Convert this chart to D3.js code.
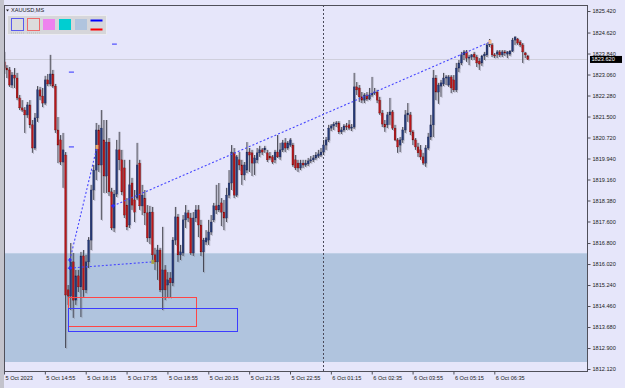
<!DOCTYPE html>
<html><head><meta charset="utf-8">
<script src="https://cdn.jsdelivr.net/npm/d3@7"></script>
<style>html,body{margin:0;padding:0;background:#e6e6fa;overflow:hidden}svg{display:block}</style>
</head><body><svg id="c" width="625" height="388"></svg>
<script>
const symbol = "XAUUSD,MS";
const opens = [
1823.53,1823.30,1823.23,1822.67,1823.04,1822.93,1822.19,1821.82,1821.74,1821.56,
1821.93,1821.19,1820.33,1821.45,1822.49,1822.26,1822.00,1822.86,1822.71,1823.08,
1822.63,1821.00,1820.63,1819.81,1820.07,1815.06,1814.83,1816.10,1814.68,1815.58,
1815.17,1816.32,1815.06,1816.10,1816.91,1818.77,1819.51,1821.00,1819.70,1820.63,
1819.29,1820.55,1818.70,1817.36,1818.62,1820.26,1819.89,1819.59,1818.21,1817.47,
1819.03,1818.40,1818.47,1819.77,1818.18,1818.47,1817.92,1816.99,1817.95,1816.36,
1816.10,1816.54,1815.06,1815.80,1815.24,1815.50,1815.32,1816.91,1817.77,1816.36,
1816.43,1817.66,1817.92,1817.73,1816.43,1817.73,1818.03,1817.47,1816.47,1816.84,
1816.91,1817.21,1817.66,1818.18,1818.03,1818.29,1817.95,1817.73,1818.58,1819.03,
1820.15,1818.58,1819.89,1819.70,1819.33,1819.51,1820.18,1820.15,1819.77,1819.89,
1820.15,1820.26,1820.26,1820.15,1820.03,1820.00,1819.89,1820.18,1820.00,1820.26,
1820.52,1820.33,1820.44,1820.44,1819.89,1819.77,1819.59,1819.77,1819.70,1819.74,
1819.85,1819.89,1819.96,1820.03,1820.07,1820.18,1820.44,1820.63,1821.07,1821.15,
1821.22,1821.26,1820.93,1821.00,1821.15,1821.19,1821.07,1821.11,1822.60,1822.56,
1822.23,1822.11,1822.30,1822.15,1822.30,1822.37,1822.41,1822.11,1821.63,1821.22,
1821.19,1821.56,1821.67,1821.07,1820.63,1820.44,1820.63,1821.00,1821.56,1821.56,
1820.93,1820.63,1820.37,1820.26,1820.00,1819.77,1820.33,1820.74,1821.19,1822.93,
1822.41,1822.63,1822.71,1822.93,1822.67,1822.97,1822.86,1822.49,1823.30,1823.49,
1823.79,1823.90,1823.67,1823.71,1823.82,1823.71,1823.56,1823.49,1823.75,1823.79,
1824.16,1824.16,1823.79,1823.82,1823.90,1823.79,1823.90,1823.82,1823.82,1823.93,
1824.34,1824.38,1824.27,1824.16,1823.86,1823.75];
const highs = [
1823.90,1823.41,1823.34,1823.15,1823.30,1823.12,1822.30,1822.11,1821.85,1822.04,
1822.11,1821.37,1821.63,1822.63,1822.60,1822.56,1823.01,1823.08,1823.79,1823.23,
1822.71,1821.48,1820.81,1820.89,1820.18,1815.24,1816.80,1816.43,1815.80,1815.80,
1816.47,1816.54,1816.36,1817.02,1818.96,1819.70,1821.26,1821.19,1821.74,1821.37,
1821.37,1820.70,1818.85,1818.77,1820.63,1820.93,1820.26,1819.89,1818.47,1819.89,
1819.22,1818.77,1820.52,1819.89,1818.96,1818.77,1818.21,1818.18,1818.14,1816.62,
1816.73,1816.62,1817.40,1815.98,1815.72,1815.72,1817.02,1818.14,1817.88,1816.73,
1817.84,1818.21,1818.03,1817.92,1817.95,1818.21,1818.21,1817.66,1816.99,1817.28,
1817.66,1817.84,1818.29,1818.96,1819.03,1818.47,1818.40,1818.85,1819.51,1820.44,
1820.33,1820.07,1820.18,1819.89,1819.81,1820.55,1820.33,1820.26,1820.07,1820.33,
1820.41,1820.33,1820.41,1820.26,1820.18,1820.07,1820.26,1820.81,1820.52,1820.63,
1820.70,1820.59,1820.70,1820.52,1820.07,1819.89,1819.89,1819.89,1819.89,1819.96,
1820.03,1820.07,1820.18,1820.26,1820.33,1820.63,1820.74,1821.19,1821.22,1821.30,
1821.33,1821.33,1821.11,1821.22,1821.26,1821.37,1821.22,1823.12,1822.78,1822.67,
1822.41,1822.37,1822.41,1822.56,1822.97,1822.56,1822.49,1822.23,1821.74,1821.37,
1821.67,1822.19,1821.74,1821.19,1820.70,1820.74,1821.11,1821.74,1822.00,1821.67,
1821.00,1820.70,1820.52,1820.44,1820.15,1820.44,1820.89,1821.56,1823.23,1823.04,
1822.75,1822.86,1823.12,1823.04,1823.04,1823.04,1823.04,1823.49,1823.60,1823.90,
1823.97,1823.97,1823.79,1823.82,1823.90,1823.79,1823.67,1823.79,1823.90,1824.23,
1824.38,1824.23,1823.86,1823.97,1823.97,1823.97,1823.97,1823.93,1823.97,1824.42,
1824.49,1824.42,1824.34,1824.23,1823.90,1823.79];
const lows = [
1823.12,1822.93,1822.60,1822.56,1822.56,1822.11,1821.74,1821.67,1820.89,1821.45,
1821.07,1820.15,1820.26,1821.30,1822.11,1821.85,1821.93,1822.63,1822.63,1822.56,
1820.89,1819.77,1819.70,1818.85,1812.90,1814.50,1814.31,1814.02,1814.50,1814.98,
1814.05,1814.80,1814.94,1815.87,1816.54,1818.40,1819.14,1819.44,1817.66,1818.66,
1818.66,1818.55,1817.28,1817.21,1818.51,1819.51,1818.58,1817.73,1817.28,1817.36,
1818.03,1817.58,1818.40,1818.03,1817.84,1817.47,1816.84,1816.76,1816.17,1815.80,
1815.43,1814.98,1814.31,1814.68,1814.76,1814.76,1815.20,1816.73,1816.10,1816.17,
1816.32,1817.36,1817.58,1816.36,1816.32,1817.58,1817.02,1816.32,1815.72,1816.73,
1816.73,1817.10,1817.58,1817.88,1817.95,1817.43,1817.28,1817.58,1818.47,1818.77,
1818.47,1818.51,1819.51,1818.96,1819.14,1819.40,1819.44,1819.29,1819.33,1819.77,
1820.00,1820.07,1820.15,1819.81,1819.89,1819.74,1819.77,1819.96,1819.89,1820.18,
1820.18,1820.26,1820.37,1819.63,1819.51,1819.44,1819.51,1819.59,1819.63,1819.66,
1819.77,1819.81,1819.89,1819.96,1820.00,1820.07,1820.26,1820.55,1820.96,1821.00,
1821.11,1820.85,1820.85,1820.93,1821.00,1821.00,1820.96,1821.04,1822.30,1822.04,
1822.00,1822.00,1822.08,1822.11,1822.23,1822.30,1822.00,1821.56,1821.11,1820.93,
1821.07,1821.19,1821.00,1820.59,1820.15,1820.18,1820.52,1820.89,1821.30,1820.81,
1820.44,1820.26,1820.00,1819.89,1819.70,1819.63,1820.26,1820.63,1820.74,1822.11,
1821.97,1822.23,1822.63,1822.67,1822.60,1822.37,1822.41,1822.41,1823.15,1823.41,
1823.60,1823.53,1823.41,1823.60,1823.60,1823.34,1823.23,1823.38,1823.60,1823.71,
1824.08,1823.71,1823.67,1823.67,1823.71,1823.71,1823.75,1823.67,1823.75,1823.90,
1824.16,1824.16,1824.08,1823.49,1823.67,1823.60];
const closes = [
1823.30,1823.23,1822.67,1823.04,1822.93,1822.19,1821.82,1821.74,1821.56,1821.93,
1821.19,1820.33,1821.45,1822.49,1822.26,1822.00,1822.86,1822.71,1823.08,1822.63,
1821.00,1820.44,1819.81,1820.26,1814.87,1814.83,1816.10,1814.68,1815.58,1815.17,
1816.32,1815.06,1816.10,1816.91,1818.77,1819.51,1821.00,1819.70,1821.07,1819.29,
1820.55,1818.70,1817.36,1818.62,1820.26,1819.89,1818.70,1817.84,1817.40,1818.96,
1818.21,1817.95,1819.70,1818.18,1818.58,1817.92,1816.99,1817.95,1816.36,1816.10,
1816.54,1815.06,1815.80,1815.06,1815.43,1815.32,1816.91,1817.77,1816.36,1816.47,
1817.66,1817.92,1817.73,1816.43,1817.73,1818.03,1817.47,1816.47,1816.91,1816.99,
1817.21,1817.58,1818.18,1818.03,1818.21,1817.95,1817.73,1818.58,1819.03,1820.18,
1818.58,1820.00,1819.70,1819.33,1819.70,1820.18,1820.07,1819.77,1819.96,1820.15,
1820.26,1820.18,1820.33,1819.89,1819.96,1819.81,1820.18,1820.00,1820.26,1820.52,
1820.33,1820.52,1820.63,1819.70,1819.59,1819.59,1819.77,1819.70,1819.77,1819.85,
1819.89,1819.96,1820.07,1820.11,1820.18,1820.44,1820.63,1821.07,1821.15,1821.22,
1821.26,1820.93,1821.00,1821.15,1821.11,1821.07,1821.11,1822.60,1822.49,1822.23,
1822.11,1822.30,1822.15,1822.30,1822.37,1822.41,1822.11,1821.63,1821.22,1821.11,
1821.56,1821.67,1821.07,1820.63,1820.37,1820.63,1821.00,1821.56,1821.63,1820.93,
1820.63,1820.37,1820.15,1820.00,1819.77,1820.33,1820.74,1821.19,1822.93,1822.41,
1822.67,1822.75,1822.93,1822.97,1822.97,1822.56,1822.49,1823.30,1823.49,1823.79,
1823.90,1823.67,1823.71,1823.79,1823.71,1823.49,1823.45,1823.75,1823.82,1824.16,
1824.23,1823.79,1823.75,1823.90,1823.79,1823.90,1823.86,1823.90,1823.93,1824.34,
1824.45,1824.23,1824.16,1823.90,1823.79,1823.62];

const xTickBars = [0,16,32,48,64,80,96,112,128,144,160,176,192];
const xTickLabels = ["5 Oct 2023","5 Oct 14:55","5 Oct 16:15","5 Oct 17:35","5 Oct 18:55","5 Oct 20:15","5 Oct 21:35","5 Oct 22:55","6 Oct 01:15","6 Oct 02:35","6 Oct 03:55","6 Oct 05:15","6 Oct 06:35"];
const yTickValues = [1825.42,1824.62,1823.84,1823.06,1822.28,1821.50,1820.72,1819.94,1819.16,1818.38,1817.60,1816.80,1816.02,1815.24,1814.46,1813.68,1812.90,1812.12];
const lastPrice = 1823.62;
const zonePrices = [1816.43, 1812.38];
const separatorBar = 125;
// trend lines: [bar1, price1, bar2, price2]
const trendLines = [[25.8,1816.17,36.4,1820.37],[42.7,1818.18,190.3,1824.27],[25.8,1815.87,58.3,1816.10]];
const crossMarks = [[25.8,1816.17],[25.8,1815.87],[42.7,1818.18]];
const dotMarks = [[36.4,1820.37,"#e2a86a"],[58.3,1816.10,"#a7a042"],[190.3,1824.27,"#f0b98c"]];
const shortDashes = [[25.4,27.4,1823.15],[25.4,27.4,1820.37],[42.3,44.2,1824.19]];
// rectangles: [bar1, priceTop, bar2, priceBottom]
const rects = [[25.1,1814.80,75.2,1813.72,"#ff4646"],[25.1,1814.39,91.2,1813.53,"#3c3cff"]];
const legendSwatches = ["box-blue","box-red","#ee82ee","#00ced1","#b0c4de","lines"];

const svg = d3.select("#c");
const L = 4, R = 587, T = 5, B = 371;
const x = d3.scaleLinear().domain([0,192]).range([4,494.3]);
const y = d3.scaleLinear().domain([1812.12,1825.42]).range([369,11]);
const FONT = "Liberation Sans, Arial, sans-serif";

svg.append("rect").attr("width",625).attr("height",388).attr("fill","#e6e6fa");
svg.append("rect").attr("x",0).attr("y",0).attr("width",4).attr("height",388).attr("fill","#c3c3cc");
svg.append("defs").append("clipPath").attr("id","clip").append("rect")
  .attr("x",L).attr("y",T).attr("width",R-L).attr("height",B-T);
const plot = svg.append("g").attr("clip-path","url(#clip)");

// zone
plot.append("rect").attr("x",L).attr("width",R-L)
  .attr("y",y(zonePrices[0])).attr("height",y(zonePrices[1])-y(zonePrices[0]))
  .attr("fill","#b0c4de");
plot.append("line").attr("x1",L).attr("x2",R).attr("y1",y(zonePrices[0])+0.5).attr("y2",y(zonePrices[0])+0.5)
  .attr("stroke","#c0cfe6").attr("stroke-width",1);

// bid line
plot.append("line").attr("x1",L).attr("x2",R).attr("y1",Math.round(y(lastPrice))+0.5).attr("y2",Math.round(y(lastPrice))+0.5)
  .attr("stroke","#cfcfdc").attr("stroke-width",1);

// separator
plot.append("line").attr("x1",Math.round(x(separatorBar))+0.5).attr("x2",Math.round(x(separatorBar))+0.5)
  .attr("y1",T).attr("y2",B).attr("stroke","#4a4a5a").attr("stroke-dasharray","2,2");

const bars = d3.range(opens.length).map(i=>({i,o:opens[i],h:highs[i],l:lows[i],c:closes[i]}));

// gray shadow candles
const sh = plot.append("g").attr("opacity",0.5);
sh.selectAll("line").data(bars).join("line")
  .attr("x1",d=>x(d.i)+1.4).attr("x2",d=>x(d.i)+1.4)
  .attr("y1",d=>y(d.h)).attr("y2",d=>y(d.l)+1).attr("stroke","#8a8a96").attr("stroke-width",1);
sh.selectAll("rect").data(bars).join("rect")
  .attr("x",d=>x(d.i)+0.7).attr("width",1.5)
  .attr("y",d=>y(Math.max(d.o,d.c))).attr("height",d=>Math.max(1,Math.abs(y(d.o)-y(d.c))+1))
  .attr("fill","#8a8a96");

// main candles
const cg = plot.append("g");
cg.selectAll("line").data(bars).join("line")
  .attr("x1",d=>x(d.i)+0.3).attr("x2",d=>x(d.i)+0.3)
  .attr("y1",d=>y(d.h)).attr("y2",d=>y(d.l))
  .attr("stroke","#3a3a44").attr("stroke-width",0.9);
cg.selectAll("rect").data(bars).join("rect")
  .attr("x",d=>x(d.i)-0.6).attr("width",1.8)
  .attr("y",d=>y(Math.max(d.o,d.c))).attr("height",d=>Math.max(1,Math.abs(y(d.o)-y(d.c))))
  .attr("fill",d=>d.c>=d.o?"#263a78":"#b8161a")
  .attr("stroke",d=>d.c>=d.o?"#1a2550":"#6a0a0a").attr("stroke-width",0.3);

// rectangles
plot.selectAll("rect.obj").data(rects).join("rect").attr("class","obj")
  .attr("x",d=>Math.round(x(d[0]))+0.5).attr("y",d=>Math.round(y(d[1]))+0.5)
  .attr("width",d=>Math.round(x(d[2])-x(d[0]))).attr("height",d=>Math.round(y(d[3])-y(d[1])))
  .attr("fill","none").attr("stroke",d=>d[4]).attr("stroke-width",1);

// trend lines
plot.selectAll("line.tl").data(trendLines).join("line").attr("class","tl")
  .attr("x1",d=>x(d[0])).attr("y1",d=>y(d[1])).attr("x2",d=>x(d[2])).attr("y2",d=>y(d[3]))
  .attr("stroke","#4646ff").attr("stroke-width",1.1).attr("stroke-dasharray","2,2");
plot.selectAll("path.cross").data(crossMarks).join("path").attr("class","cross")
  .attr("d",d=>{const cx=x(d[0]),cy=y(d[1]);return `M${cx-2},${cy}H${cx+2}M${cx},${cy-2}V${cy+2}`;})
  .attr("stroke","#2a2aff").attr("stroke-width",1.2);
plot.selectAll("rect.dot").data(dotMarks).join("rect").attr("class","dot")
  .attr("x",d=>x(d[0])-1.5).attr("y",d=>y(d[1])-2).attr("width",3).attr("height",4).attr("fill",d=>d[2]);
plot.selectAll("line.sd").data(shortDashes).join("line").attr("class","sd")
  .attr("x1",d=>x(d[0])).attr("x2",d=>x(d[1])).attr("y1",d=>y(d[2])).attr("y2",d=>y(d[2]))
  .attr("stroke","#3030ff").attr("stroke-width",1);

// frame
svg.append("rect").attr("x",L+0.5).attr("y",T+0.5).attr("width",R-L).attr("height",B-T)
  .attr("fill","none").attr("stroke","#50505a").attr("stroke-width",1);

// price axis
const ya = svg.append("g").attr("transform",`translate(${R+0.5},0)`)
  .call(d3.axisRight(y).tickValues(yTickValues).tickSize(3).tickPadding(2).tickFormat(d3.format(".3f")));
ya.select(".domain").remove();
ya.selectAll("line").attr("stroke","#50505a");
ya.selectAll("text").attr("font-family",FONT).attr("font-size","5.6px").attr("fill","#222");

// time axis
const xa = svg.append("g").attr("transform",`translate(0,${B+0.5})`)
  .call(d3.axisBottom(x).tickValues(xTickBars).tickSize(3).tickPadding(2).tickFormat((d,i)=>xTickLabels[i]));
xa.select(".domain").remove();
xa.selectAll("line").attr("stroke","#50505a");
xa.selectAll("text").attr("font-family",FONT).attr("font-size","5.6px").attr("fill","#222")
  .attr("text-anchor","start").attr("x",1).attr("dy","0.6em");

// last price label
svg.append("rect").attr("x",590).attr("y",y(lastPrice)-3.5).attr("width",32).attr("height",7).attr("fill","#000");
svg.append("text").attr("x",591.5).attr("y",y(lastPrice)).attr("dy","0.35em")
  .attr("font-family",FONT).attr("font-size","5.6px").attr("fill","#fff").text(d3.format(".3f")(lastPrice));

// legend
svg.append("path").attr("d","M6,9.5L9,9.5L7.5,11.5Z").attr("fill","#222");
svg.append("text").attr("x",11).attr("y",12).attr("font-family",FONT).attr("font-size","5.6px").attr("fill","#222").text(symbol);
svg.append("rect").attr("x",7.5).attr("y",15.5).attr("width",99).attr("height",19).attr("fill","#d6d6da").attr("stroke","#ececf2");
legendSwatches.forEach((s,k)=>{
  const bx = 11 + k*16;
  if(s==="box-blue"||s==="box-red"){
    svg.append("rect").attr("x",bx+0.5).attr("y",18.5).attr("width",12).attr("height",12)
      .attr("fill","#dcdcdc").attr("stroke",s==="box-blue"?"#5a5aee":"#ee6a6a");
    svg.append("line").attr("x1",bx).attr("x2",bx+13).attr("y1",33).attr("y2",33).attr("stroke","#bbb").attr("stroke-dasharray","1,1");
  } else if(s==="lines"){
    svg.append("rect").attr("x",bx-0.5).attr("y",19.5).attr("width",12).attr("height",2).attr("fill","#0000ff");
    svg.append("rect").attr("x",bx-0.5).attr("y",28.5).attr("width",12).attr("height",2).attr("fill","#ff0000");
  } else {
    svg.append("rect").attr("x",bx).attr("y",19).attr("width",12).attr("height",11).attr("fill",s);
  }
});
</script></body></html>
